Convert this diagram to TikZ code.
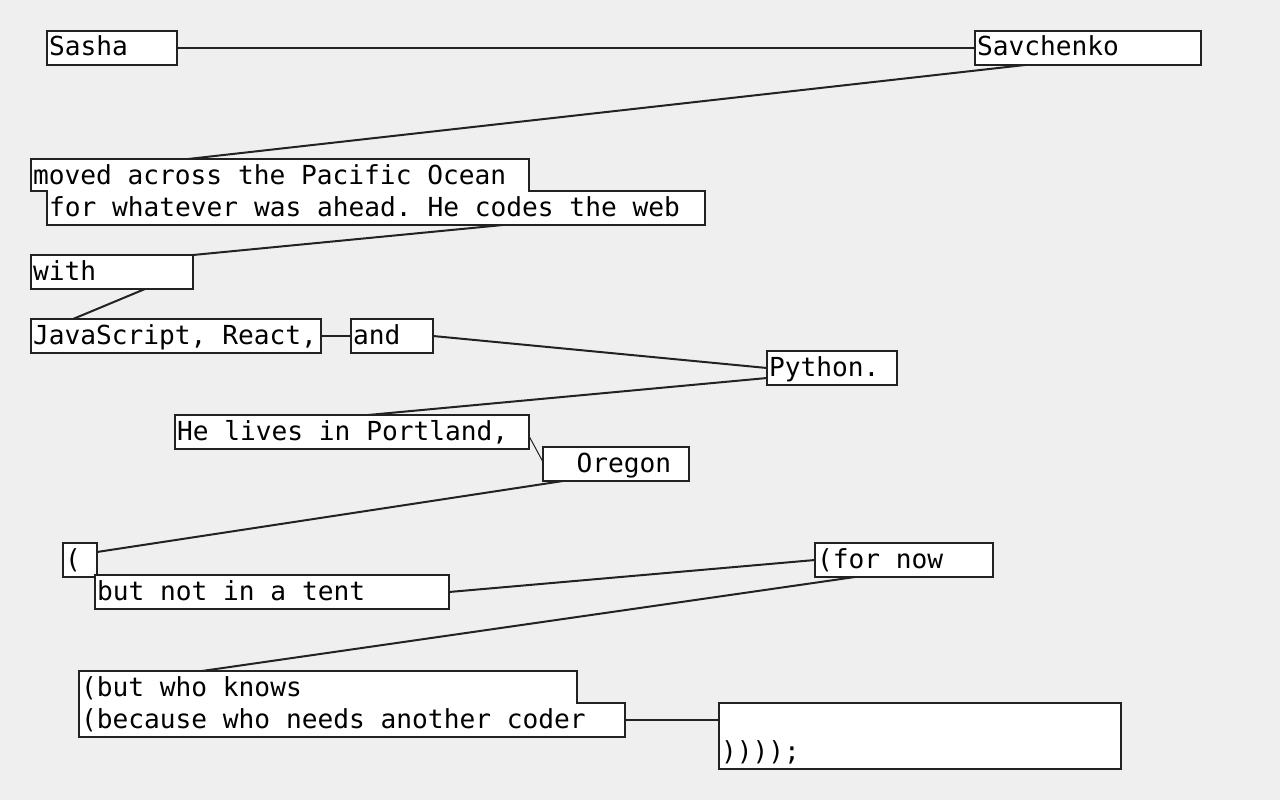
\documentclass[tikz,border=0pt]{standalone}
\usepackage{fontspec}
\setmonofont{DejaVu Sans Mono}
\definecolor{paper}{HTML}{EFEFEF}
\definecolor{ink}{HTML}{222222}

\begin{document}
\begin{tikzpicture}[line cap=round,line join=miter,x=1pt,y=-1pt,
  word/.style={draw=ink,fill=white,line width=2pt,outer sep=0pt,
    font=\ttfamily\fontsize{26.2}{32}\selectfont,inner xsep=2pt,inner ysep=0pt,
    text height=25pt,text depth=9pt,text width=#1,align=flush left,anchor=north west,
    execute at begin node={\frenchspacing\spaceskip=\fontcharwd\font`x\relax\xspaceskip=\spaceskip}},
  piece/.style={word=#1,draw=none},
  link/.style={draw=ink,line width=2pt}]
\fill[paper] (0,0) rectangle (1280,800);
\useasboundingbox (0,0) rectangle (1280,800);
%
\node[word=126pt] (sasha) at (47,31) {Sasha};
\node[word=222pt] (sav) at (975,31) {Savchenko};
%
\node[piece=494pt,text depth=7pt] (m1) at (31,159) {moved across the Pacific Ocean};
\node[piece=654pt] (m2) at (47,191) {for whatever was ahead. He codes the web};
\draw[ink,line width=2pt] (m1.north west) -- (m1.north east) -- (m1.south east) -- (m2.north east)
  -- (m2.south east) -- (m2.south west) -- (m2.north west) -- (m1.south west) -- cycle;
%
\node[word=158pt] (with) at (31,255) {with};
\node[word=286pt] (js) at (31,319) {JavaScript, React,};
\node[word=78pt] (and) at (351,319) {and};
\node[word=126pt] (py) at (767,351) {Python.};
\node[word=350pt] (hl) at (175,415) {He lives in Portland,};
\node[word=142pt] (or) at (543,447) {\phantom{xx}Oregon};
%
\node[word=30pt] (p1) at (63,543) {(};
\node[word=350pt] (p2) at (95,575) {but not in a tent};
\node[word=174pt] (fn) at (815,543) {(for now};
%
\node[piece=494pt,text depth=7pt] (b1) at (79,671) {(but who knows};
\node[piece=542pt] (b2) at (79,703) {(because who needs another coder};
\draw[ink,line width=2pt] (b1.north west) -- (b1.north east) -- (b1.south east) -- (b2.north east)
  -- (b2.south east) -- (b2.south west) -- cycle;
\node[word=398pt,text height=57pt] (end) at (719,703) {))));};
%
\draw[link] (sasha.east) -- (sav.west);
\draw[link] ([xshift=50pt]sav.south west) -- ([xshift=157pt]m1.north west);
\draw[link] ([xshift=456pt]m2.south west) -- (with.north east);
\draw[link] ([xshift=114pt]with.south west) -- ([xshift=42pt]js.north west);
\draw[link] (js.east) -- (and.west);
\draw[link] (and.east) -- (py.west);
\draw[link] ([yshift=-10pt]py.west) -- ([xshift=193pt]hl.north west);
\draw[ink,line width=1pt] ([yshift=-4pt]hl.east) -- ([yshift=2pt]or.west);
\draw[link] ([xshift=20pt]or.south west) -- ([yshift=8pt]p1.east);
\draw[link] (p2.east) -- (fn.west);
\draw[link] ([xshift=40pt]fn.south west) -- ([xshift=123pt]b1.north west);
\draw[link] (b2.east) -- (b2.east -| end.west);
\end{tikzpicture}
\end{document}
